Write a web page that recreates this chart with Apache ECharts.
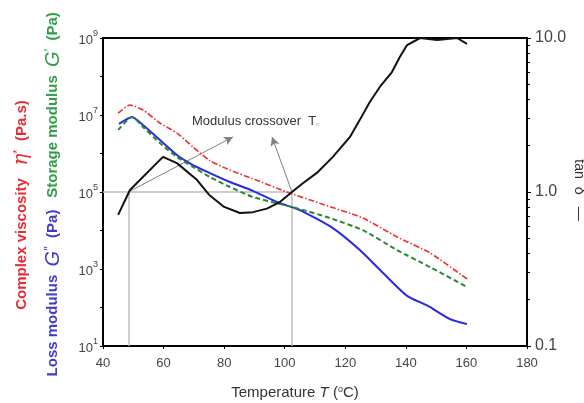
<!DOCTYPE html>
<html>
<head>
<meta charset="utf-8">
<script src="https://cdn.jsdelivr.net/npm/echarts@6/dist/echarts.min.js"></script>
<style>html,body{margin:0;padding:0;background:#fff}#c{width:584px;height:403px}</style>
</head>
<body>
<div id="c"></div>
<script>
// ---- Data ----
// Complex viscosity eta* (Pa.s), left axis
const etaT = [45, 48.9, 53.2, 58.8, 64.4, 69.7, 75.3, 80.9, 89.5, 100.7, 111.6, 125.8, 137.1, 148, 160.2];
const etaV = [1.12e7, 1.82e7, 1.35e7, 6.2e6, 3.4e6, 1.48e6, 6.5e5, 4.0e5, 2.2e5, 1.0e5, 5.1e4, 2.1e4, 6.8e3, 2.6e3, 550];
// Storage modulus G' (Pa), left axis
const gpT = [45, 49.6, 53.2, 58.8, 64.4, 69.7, 75.3, 81.9, 89.5, 97.4, 105, 115, 125.8, 137.1, 148, 160.2];
const gpV = [4.1e6, 8.9e6, 4.9e6, 1.86e6, 8.1e5, 4.5e5, 2.45e5, 1.35e5, 7.4e4, 5.1e4, 3.6e4, 2.1e4, 1.02e4, 3.1e3, 1.12e3, 340];
// Loss modulus G'' (Pa), left axis
const gppT = [45.3, 49.6, 53.2, 58.8, 64.4, 69.7, 75.3, 81.9, 89.5, 97.4, 105, 115.9, 124.8, 132.4, 140.4, 147.3, 154.6, 160.2];
const gppV = [5.9e6, 8.9e6, 5.5e6, 2.24e6, 9.1e5, 5.0e5, 3.1e5, 1.82e5, 1.07e5, 5.5e4, 3.4e4, 1.15e4, 3.1e3, 800, 200, 110, 50, 37];
// tan delta, right axis
const tanT = [45, 48.9, 59.8, 64.4, 71, 75, 80, 85.2, 89.5, 94.1, 98.4, 102.4, 106, 110.6, 115.9, 121.5, 124.8, 128.1, 131.4, 135.4, 138, 140.4, 144.7, 150.3, 156.9, 160.2];
const tanV = [0.71, 1.03, 1.69, 1.54, 1.20, 0.96, 0.80, 0.73, 0.74, 0.78, 0.86, 1.0, 1.14, 1.33, 1.69, 2.27, 2.94, 3.84, 4.81, 6.01, 7.53, 9.0, 10.0, 9.7, 10.0, 9.15];
// Annotations: crossover reference lines and arrows
const refLevel = 1e5;
const crossT = [48.6, 102.4];
const arrowTails = [[48.9, 1.05e5], [102.4, 1.0e5]];
const arrowHeads = [[82.9, 2.7e6], [95.8, 2.7e6]];
// Axis tick labels
const xTicks = [40, 60, 80, 100, 120, 140, 160, 180];
const rightTickLabels = {0.1: '0.1', 1: '1.0', 10: '10.0'};

const zip = (a, b) => a.map((v, i) => [v, b[i]]);
const FONT = "'Liberation Sans', Arial, sans-serif";
const RED = '#ea2a33', GREEN = '#2f9e44', BLUE = '#3c3cc8';
const chart = echarts.init(document.getElementById('c'));

const option = {
  animation: false,
  backgroundColor: '#fff',
  grid: { left: 103, right: 57, top: 38, bottom: 57, show: true, borderColor: '#000', borderWidth: 2, backgroundColor: 'transparent' },
  xAxis: {
    type: 'value', min: xTicks[0], max: xTicks[xTicks.length - 1], interval: 20,
    axisLine: { show: true, lineStyle: { color: '#000', width: 2 } },
    axisTick: { show: true, length: 3, lineStyle: { color: '#000' } },
    splitLine: { show: false },
    axisLabel: { fontFamily: FONT, fontSize: 13, color: '#444', margin: 11 }
  },
  yAxis: [
    {
      type: 'log', logBase: 10, min: 10, max: 1e9, interval: 1, splitNumber: 8,
      axisLine: { show: true, lineStyle: { color: '#000', width: 2 } },
      axisTick: { show: true, length: 3, lineStyle: { color: '#000' } },
      splitLine: { show: false },
      axisLabel: {
        margin: 5,
        formatter: v => { const e = Math.round(Math.log10(v)); return e % 2 === 0 ? '' : '{b|10}{s|' + e + '}'; },
        rich: {
          b: { fontFamily: FONT, fontSize: 13, color: '#444', lineHeight: 18, verticalAlign: 'bottom' },
          s: { fontFamily: FONT, fontSize: 9, color: '#444', verticalAlign: 'top', lineHeight: 10 }
        }
      }
    },
    {
      type: 'log', logBase: 10, min: 0.1, max: 10, interval: 1,
      position: 'right',
      axisLine: { show: true, lineStyle: { color: '#000', width: 2 } },
      axisTick: { show: true, length: 4, lineStyle: { color: '#000' } },
      minorTick: { show: true, splitNumber: 9, length: 3, lineStyle: { color: '#000' } },
      splitLine: { show: false },
      axisLabel: { fontFamily: FONT, fontSize: 16, color: '#444', margin: 8,
        formatter: v => rightTickLabels[v] !== undefined ? rightTickLabels[v] : (v >= 1 ? v.toFixed(1) : String(v)) }
    }
  ],
  series: [
    {
      name: 'G\'\'', type: 'line', yAxisIndex: 0, data: zip(gppT, gppV), showSymbol: false, z: 3, smooth: 0.2,
      lineStyle: { color: '#2828e6', width: 2 },
      markLine: {
        silent: true, symbol: ['none', 'none'], label: { show: false }, z: 1,
        lineStyle: { color: '#bdbdbd', width: 1.5, type: 'solid' },
        data: [
          [{ coord: [xTicks[0], refLevel] }, { coord: [crossT[1], refLevel] }],
          [{ coord: [crossT[0], 10] }, { coord: [crossT[0], refLevel] }],
          [{ coord: [crossT[1], 10] }, { coord: [crossT[1], refLevel] }]
        ]
      }
    },
    {
      name: 'G\'', type: 'line', yAxisIndex: 0, data: zip(gpT, gpV), showSymbol: false, z: 4, smooth: 0.2,
      lineStyle: { color: '#27882f', width: 2, type: [5, 3] },
      markLine: {
        silent: true, symbol: ['none', 'arrow'], symbolSize: [7, 9], label: { show: false }, z: 2,
        lineStyle: { color: '#808080', width: 1, type: 'solid' },
        data: arrowTails.map((t, i) => [{ coord: t }, { coord: arrowHeads[i] }])
      }
    },
    {
      name: 'eta*', type: 'line', yAxisIndex: 0, data: zip(etaT, etaV), showSymbol: false, z: 5, smooth: 0.2,
      lineStyle: { color: '#f03030', width: 1.6, type: [6, 2, 1.5, 2] }
    },
    {
      name: 'tan delta', type: 'line', yAxisIndex: 1, data: zip(tanT, tanV), showSymbol: false, z: 6,
      lineStyle: { color: '#111', width: 2 }
    }
  ],
  graphic: [
    {
      type: 'text', x: 22, y: 205, rotation: Math.PI / 2,
      style: {
        text: '{t|Complex viscosity   }{e|η}{p|*}{t|  (Pa.s)}',
        align: 'center', verticalAlign: 'middle',
        rich: {
          t: { fontFamily: FONT, fontSize: 15, fontWeight: 'bold', fill: RED },
          e: { fontFamily: "'DejaVu Serif', serif", fontStyle: 'italic', fontSize: 20, fill: RED },
          p: { fontFamily: FONT, fontSize: 11, fill: RED, verticalAlign: 'top' }
        }
      }
    },
    {
      type: 'text', x: 53, y: 105, rotation: Math.PI / 2,
      style: {
        text: '{t|Storage modulus  }{g|G}{p|\u2032}{t|  (Pa)}',
        align: 'center', verticalAlign: 'middle',
        rich: {
          t: { fontFamily: FONT, fontSize: 15, fontWeight: 'bold', fill: GREEN },
          g: { fontFamily: FONT, fontStyle: 'italic', fontSize: 20, fill: GREEN },
          p: { fontFamily: FONT, fontSize: 13, fill: GREEN, verticalAlign: 'top' }
        }
      }
    },
    {
      type: 'text', x: 53, y: 293, rotation: Math.PI / 2,
      style: {
        text: '{t|Loss modulus  }{g|G}{p|\u2033}{t|  (Pa)}',
        align: 'center', verticalAlign: 'middle',
        rich: {
          t: { fontFamily: FONT, fontSize: 15, fontWeight: 'bold', fill: BLUE },
          g: { fontFamily: FONT, fontStyle: 'italic', fontSize: 20, fill: BLUE },
          p: { fontFamily: FONT, fontSize: 13, fill: BLUE, verticalAlign: 'top' }
        }
      }
    },
    {
      type: 'text', x: 579, y: 190, rotation: -Math.PI / 2,
      style: {
        text: '{t|tan  }{d|δ}{t|   \u2014}',
        align: 'center', verticalAlign: 'middle',
        rich: {
          t: { fontFamily: FONT, fontSize: 14, fill: '#333' },
          d: { fontFamily: FONT, fontSize: 15, fill: '#333' }
        }
      }
    },
    {
      type: 'text', x: 295, y: 393,
      style: {
        text: '{t|Temperature }{i|T}{t| (}{s|o}{t|C)}',
        align: 'center', verticalAlign: 'middle',
        rich: {
          t: { fontFamily: FONT, fontSize: 15, fill: '#333' },
          i: { fontFamily: FONT, fontSize: 15, fontStyle: 'italic', fill: '#333' },
          s: { fontFamily: FONT, fontSize: 9, fill: '#333', verticalAlign: 'top' }
        }
      }
    },
    {
      type: 'text', x: 192, y: 121,
      style: {
        text: '{t|Modulus crossover  T}{c|c}',
        align: 'left', verticalAlign: 'middle',
        rich: {
          t: { fontFamily: FONT, fontSize: 13, fill: '#333' },
          c: { fontFamily: FONT, fontSize: 5, fill: '#999', verticalAlign: 'bottom' }
        }
      }
    }
  ]
};
chart.setOption(option);
</script>
</body>
</html>
